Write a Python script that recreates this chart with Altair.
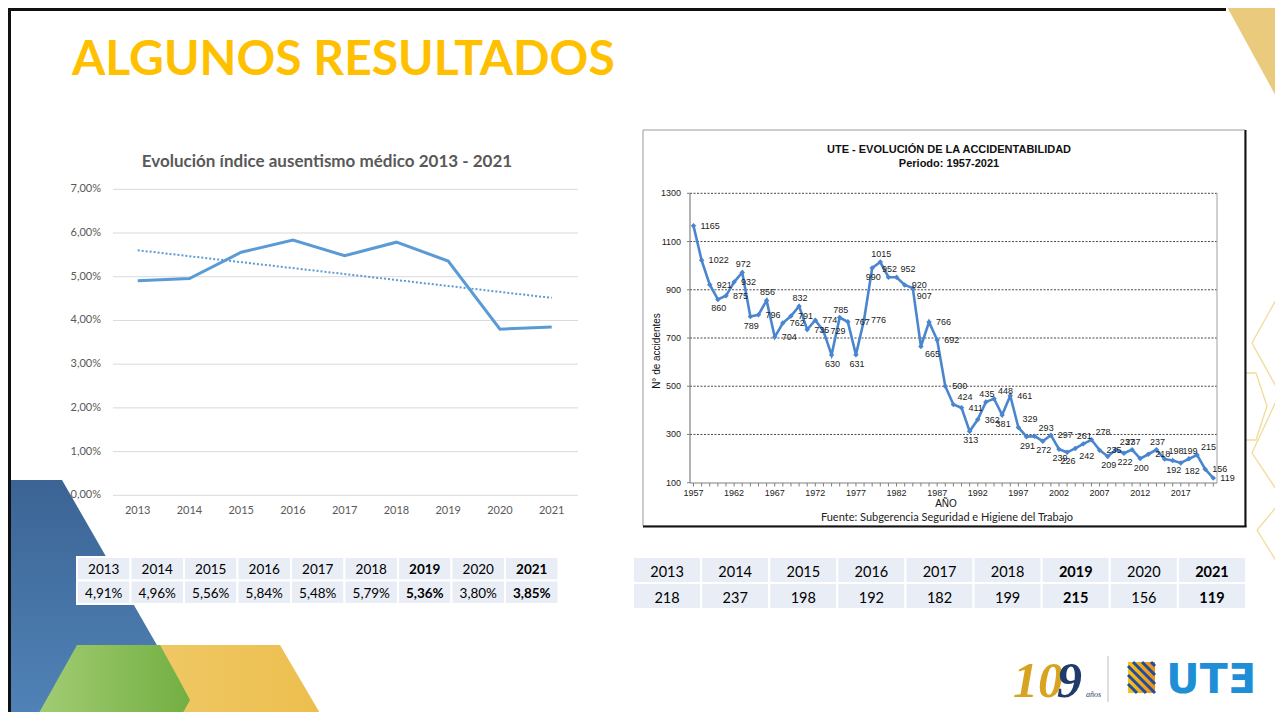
import altair as alt
import pandas as pd

OFF = 8            # page margin: page coordinate -> chart coordinate
W, H = 1267, 704

# ---------------- data ----------------
SLIDE_TITLE = "ALGUNOS RESULTADOS"

ABS_TITLE = "Evolución índice ausentismo médico 2013 - 2021"
ABS_YEARS = [2013, 2014, 2015, 2016, 2017, 2018, 2019, 2020, 2021]
ABS_VALUES = [4.91, 4.96, 5.56, 5.84, 5.48, 5.79, 5.36, 3.80, 3.85]
ABS_TICKS = [0, 1, 2, 3, 4, 5, 6, 7]

ACC_TITLE = "UTE - EVOLUCIÓN DE LA ACCIDENTABILIDAD"
ACC_SUBTITLE = "Periodo: 1957-2021"
ACC_YTITLE = "N° de accidentes"
ACC_XTITLE = "AÑO"
ACC_SOURCE = "Fuente: Subgerencia Seguridad e Higiene del Trabajo"
ACC_YEARS = list(range(1957, 2022))
ACC_VALUES = [1165, 1022, 921, 860, 875, 932, 972, 789, 796, 856,
              704, 762, 791, 832, 735, 774, 729, 630, 785, 767,
              631, 776, 990, 1015, 952, 952, 920, 907, 665, 766,
              692, 500, 424, 411, 313, 362, 435, 448, 381, 461,
              329, 291, 293, 272, 297, 239, 226, 242, 261, 278,
              235, 209, 237, 222, 237, 200, 218, 237, 198, 192,
              182, 199, 215, 156, 119]
ACC_Y_TICKS = [100, 300, 500, 700, 900, 1100, 1300]
ACC_X_LABELS = [1957, 1962, 1967, 1972, 1977, 1982, 1987, 1992, 1997, 2002, 2007, 2012, 2017]

TABLE_YEARS = [2013, 2014, 2015, 2016, 2017, 2018, 2019, 2020, 2021]
TABLE_ACC = [218, 237, 198, 192, 182, 199, 215, 156, 119]
BOLD_YEARS = [2019, 2021]

# ---------------- styles ----------------
BLUE_LINE = "#5B9BD5"
ACC_BLUE = "#4A86CF"
GRAY_TXT = "#595959"
CELL = "#E9EDF5"

# data-label placement per point (style only): R right, T top, B bottom, TR top-right, BR bottom-right
LABEL_POS = ["R", "R", "R", "B", "R", "R", "T", "B", "R", "T",
             "R", "R", "R", "T", "R", "R", "R", "B", "T", "R",
             "B", "R", "B", "T", "T", "TR", "R", "BR", "BR", "R",
             "R", "R", "TR", "R", "B", "R", "T", "TR", "B", "R",
             "TR", "B", "TR", "B", "R", "B", "B", "BR", "T", "TR",
             "R", "B", "TR", "B", "T", "B", "R", "T", "TR", "B",
             "BR", "T", "TR", "R", "R"]
LABEL_STYLE = {
    "R": dict(align="left", dx=7, dy=0),
    "T": dict(align="center", dx=1, dy=-8),
    "B": dict(align="center", dx=1, dy=9),
    "TR": dict(align="left", dx=4, dy=-8),
    "BR": dict(align="left", dx=4, dy=8),
}


def sc(domain, page_range):
    return alt.Scale(domain=domain, range=[v - OFF for v in page_range], nice=False, zero=False)


PX = sc([0, 2000], [0, 2000])  # identity page-pixel scale


def pxx(f):
    return alt.X(f"{f}:Q", scale=PX, axis=None)


def pxy(f):
    return alt.Y(f"{f}:Q", scale=PX, axis=None)


def txt(items, **kw):
    df = pd.DataFrame(items, columns=["x", "y", "t"])
    return alt.Chart(df).mark_text(**kw).encode(x=pxx("x"), y=pxy("y"), text="t:N")


def rules(items, **kw):
    df = pd.DataFrame(items, columns=["x1", "y1", "x2", "y2"])
    return alt.Chart(df).mark_rule(**kw).encode(x=pxx("x1"), y=pxy("y1"), x2="x2:Q", y2="y2:Q")


def area(xs, tops, bots, color):
    df = pd.DataFrame({"x": xs, "top": tops, "bot": bots})
    return alt.Chart(df).mark_area(color=color).encode(x=pxx("x"), y=pxy("top"), y2="bot:Q")


def grad(c1, c2, horizontal=False):
    return alt.Gradient(
        gradient="linear",
        stops=[alt.GradientStop(offset=0, color=c1), alt.GradientStop(offset=1, color=c2)],
        x1=0, y1=0, x2=1 if horizontal else 0, y2=0 if horizontal else 1,
    )


layers = []

# ---------------- decorations ----------------
layers.append(area([0, 62, 200], [480, 480, 720], [720, 720, 720], grad("#3B6494", "#5183B8")))
layers.append(area([110, 150, 280, 324], [720, 645, 645, 720], [720, 720, 720, 720], grad("#EFCB6A", "#EDBE4E", True)))
layers.append(area([35, 77, 160, 179, 190], [720, 645, 645, 679.5, 700], [720, 720, 720, 720, 700],
                   grad("#A3CD74", "#73AF42", True)))
layers.append(area([1226, 1278], [5, 5], [5, 100], "#EACA7C"))

HEX_LINES = [
    [(1192, 406), (1204, 373), (1256, 373), (1267, 406), (1256, 440), (1204, 440), (1192, 406)],
    [(1277, 298), (1252, 343), (1279, 392)],
    [(1278, 397), (1252, 453), (1280, 495)],
    [(1278, 505), (1257, 530), (1280, 567)],
]
hex_rows = []
for h, pts in enumerate(HEX_LINES):
    for o, (x, y) in enumerate(pts):
        hex_rows.append({"h": h, "o": o, "x": x, "y": y})
layers.append(alt.Chart(pd.DataFrame(hex_rows)).mark_line(color="#F2DA98", strokeWidth=1.3).encode(
    x=pxx("x"), y=pxy("y"), detail="h:N", order="o:Q"))

# slide border
layers.append(rules([(8, 9.5, 1226, 9.5), (9.5, 8, 9.5, 712)], color="#111111", strokeWidth=3))

# slide title
layers.append(txt([(72, 75, SLIDE_TITLE)], align="left", baseline="alphabetic", font="Lato",
                  fontWeight="bold", fontSize=48, color="#FFC000"))

# ---------------- left chart ----------------
LX = sc([2013, 2021], [137.7, 551.7])
LY = sc([0, 7], [495.3, 189.3])
abs_df = pd.DataFrame({"year": ABS_YEARS, "value": ABS_VALUES,
                       "ylab": [str(y) for y in ABS_YEARS]})
tick_df = pd.DataFrame({"v": ABS_TICKS, "lab": [f"{v:.2f}%".replace(".", ",") for v in ABS_TICKS]})

layers.append(alt.Chart(tick_df).mark_rule(color="#D9D9D9", strokeWidth=1).encode(
    y=alt.Y("v:Q", scale=LY, axis=None), x=alt.value(113 - OFF), x2=alt.value(578 - OFF)))
layers.append(alt.Chart(tick_df).mark_text(align="right", baseline="middle", font="Lato", fontSize=11,
                                           color=GRAY_TXT).encode(
    y=alt.Y("v:Q", scale=LY, axis=None), x=alt.value(101 - OFF), text="lab:N"))
layers.append(alt.Chart(abs_df).mark_text(align="center", baseline="middle", font="Lato", fontSize=11,
                                          color=GRAY_TXT).encode(
    x=alt.X("year:Q", scale=LX, axis=None), y=alt.value(511 - OFF), text="ylab:N"))
layers.append(alt.Chart(abs_df).transform_regression("year", "value").mark_line(
    color=BLUE_LINE, strokeWidth=2, strokeDash=[2, 2]).encode(
    x=alt.X("year:Q", scale=LX, axis=None), y=alt.Y("value:Q", scale=LY, axis=None)))
layers.append(alt.Chart(abs_df).mark_line(color=BLUE_LINE, strokeWidth=3).encode(
    x=alt.X("year:Q", scale=LX, axis=None), y=alt.Y("value:Q", scale=LY, axis=None)))
layers.append(txt([(327, 162, ABS_TITLE)], align="center", baseline="middle", font="Lato",
                  fontWeight="bold", fontSize=17, color=GRAY_TXT))


# ---------------- tables ----------------
def table_layers(years, values, x_page, y_page, font_size, text_dy):
    TX = sc([0, 9], x_page)
    TY = sc([0, 2], y_page)
    cells = []
    for i, (yr, val) in enumerate(zip(years, values)):
        bold = yr in BOLD_YEARS
        cells.append({"c": i, "r": 0, "t": str(yr), "b": bold})
        cells.append({"c": i, "r": 1, "t": val, "b": bold})
    df = pd.DataFrame(cells)
    df["c2"] = df["c"] + 1
    df["r2"] = df["r"] + 1
    df["cm"] = df["c"] + 0.5
    df["rm"] = df["r"] + 0.5
    out = [alt.Chart(df).mark_rect(fill=CELL, stroke="white", strokeWidth=2).encode(
        x=alt.X("c:Q", scale=TX, axis=None), x2="c2:Q",
        y=alt.Y("r:Q", scale=TY, axis=None), y2="r2:Q")]
    for b, w in [(False, "normal"), (True, "bold")]:
        out.append(alt.Chart(df[df["b"] == b]).mark_text(
            align="center", baseline="middle", font="Lato", fontSize=font_size, fontWeight=w,
            color="#000000", dy=text_dy).encode(
            x=alt.X("cm:Q", scale=TX, axis=None), y=alt.Y("rm:Q", scale=TY, axis=None), text="t:N"))
    return out


abs_labels = [f"{v:.2f}%".replace(".", ",") for v in ABS_VALUES]
layers += table_layers(TABLE_YEARS, abs_labels, [77, 558.5], [557, 604], 13.5, 1.5)
layers += table_layers(TABLE_YEARS, [str(v) for v in TABLE_ACC], [633, 1246], [557, 609], 14.5, 3)

# ---------------- right chart ----------------
# frame
frame_df = pd.DataFrame({"x1": [643], "y1": [130], "x2": [1245], "y2": [526]})
layers.append(alt.Chart(frame_df).mark_rect(fill="white", stroke="#9A9A9A", strokeWidth=1).encode(
    x=pxx("x1"), x2="x2:Q", y=pxy("y1"), y2="y2:Q"))
layers.append(rules([(1245.5, 130, 1245.5, 527), (643, 526.5, 1246.5, 526.5)], color="#111111", strokeWidth=2))

RX = sc([1957, 2021], [693.5, 1213.3])
RY = sc([100, 1300], [482.7, 193.3])
acc_tick_df = pd.DataFrame({"v": ACC_Y_TICKS, "lab": [str(v) for v in ACC_Y_TICKS]})
grid_df = acc_tick_df[acc_tick_df["v"] > 100]

layers.append(alt.Chart(grid_df).mark_rule(color="#333333", strokeWidth=0.9, strokeDash=[2, 1.5]).encode(
    y=alt.Y("v:Q", scale=RY, axis=None), x=alt.value(690 - OFF), x2=alt.value(1217 - OFF)))
layers.append(rules([(1217, 193, 1217, 483)], color="#B0B0B0", strokeWidth=1.2))
layers.append(rules([(690, 193, 690, 483), (690, 483, 1217, 483)], color="#808080", strokeWidth=1.2))
layers.append(alt.Chart(acc_tick_df).mark_rule(color="#808080", strokeWidth=1).encode(
    y=alt.Y("v:Q", scale=RY, axis=None), x=alt.value(687 - OFF), x2=alt.value(690 - OFF)))

acc_df = pd.DataFrame({"year": ACC_YEARS, "value": ACC_VALUES})
layers.append(alt.Chart(acc_df).mark_rule(color="#808080", strokeWidth=1).encode(
    x=alt.X("year:Q", scale=RX, axis=None), y=alt.value(483 - OFF), y2=alt.value(486.5 - OFF)))
layers.append(alt.Chart(acc_tick_df).mark_text(align="right", baseline="middle", font="Liberation Sans",
                                               fontSize=9, color="#222222").encode(
    y=alt.Y("v:Q", scale=RY, axis=None), x=alt.value(681 - OFF), text="lab:N"))
xl_df = pd.DataFrame({"year": ACC_X_LABELS, "lab": [str(y) for y in ACC_X_LABELS]})
layers.append(alt.Chart(xl_df).mark_text(align="center", baseline="middle", font="Liberation Sans",
                                         fontSize=9, color="#222222").encode(
    x=alt.X("year:Q", scale=RX, axis=None), y=alt.value(493 - OFF), text="lab:N"))

layers.append(alt.Chart(acc_df).mark_line(color=ACC_BLUE, strokeWidth=2.6).encode(
    x=alt.X("year:Q", scale=RX, axis=None), y=alt.Y("value:Q", scale=RY, axis=None)))
layers.append(alt.Chart(acc_df).mark_point(shape="diamond", filled=True, size=30, color=ACC_BLUE,
                                           opacity=1).encode(
    x=alt.X("year:Q", scale=RX, axis=None), y=alt.Y("value:Q", scale=RY, axis=None)))

acc_df["pos"] = LABEL_POS
acc_df["lab"] = [str(v) for v in ACC_VALUES]
for p, kw in LABEL_STYLE.items():
    layers.append(alt.Chart(acc_df[acc_df["pos"] == p]).mark_text(
        baseline="middle", font="Liberation Sans", fontSize=9, color="#222222", **kw).encode(
        x=alt.X("year:Q", scale=RX, axis=None), y=alt.Y("value:Q", scale=RY, axis=None), text="lab:N"))

layers.append(txt([(949, 150, ACC_TITLE), (949, 164, ACC_SUBTITLE)], align="center", baseline="middle",
                  font="Liberation Sans", fontWeight="bold", fontSize=11, color="#111111"))
layers.append(txt([(657, 351, ACC_YTITLE)], align="center", baseline="middle", angle=270,
                  font="Liberation Sans", fontSize=10, color="#111111"))
layers.append(txt([(946, 504, ACC_XTITLE)], align="center", baseline="middle",
                  font="Liberation Sans", fontSize=10, color="#111111"))
layers.append(txt([(947, 518, ACC_SOURCE)], align="center", baseline="middle",
                  font="Lato", fontSize=11, color="#222222"))

# ---------------- logo ----------------
layers.append(txt([(1013, 697, "10")], align="left", baseline="alphabetic", font="Liberation Serif",
                  fontStyle="italic", fontWeight="bold", fontSize=50, color="#D8A321"))
layers.append(txt([(1057, 697, "9")], align="left", baseline="alphabetic", font="Liberation Serif",
                  fontStyle="italic", fontWeight="bold", fontSize=50, color="#1F3B6B"))
layers.append(txt([(1086, 697, "años")], align="left", baseline="alphabetic", font="Liberation Serif",
                  fontStyle="italic", fontSize=8, color="#1F3B6B"))
layers.append(rules([(1108, 656, 1108, 702)], color="#BDBDBD", strokeWidth=1))

sq = pd.DataFrame({"x1": [1128], "y1": [662], "x2": [1155], "y2": [693]})
layers.append(alt.Chart(sq).mark_rect(color=grad("#F8C41C", "#EE8C1E", True)).encode(
    x=pxx("x1"), x2="x2:Q", y=pxy("y1"), y2="y2:Q"))
stripes = []
x0, y0, x1, y1 = 1128, 662, 1155, 693
for c in [-489, -480, -471, -462, -453, -444, -435]:
    xa = max(x0, y0 - c)
    xb = min(x1, y1 - c)
    if xb > xa + 1:
        stripes.append((xa, xa + c, xb, xb + c))
layers.append(rules(stripes, color="#1D4F9E", strokeWidth=3))
layers.append(txt([(1211, 693, "UTƎ")], align="center", baseline="alphabetic", font="DejaVu Sans",
                  fontWeight="bold", fontSize=41, color="#1E8ED6"))

chart = alt.layer(*layers).resolve_scale(x="independent", y="independent").properties(
    width=W, height=H, autosize=alt.AutoSizeParams(type="none"), padding=0, background="white"
).configure_view(stroke=None)

chart.save("out.html", embed_options={"renderer": "svg", "actions": False})
